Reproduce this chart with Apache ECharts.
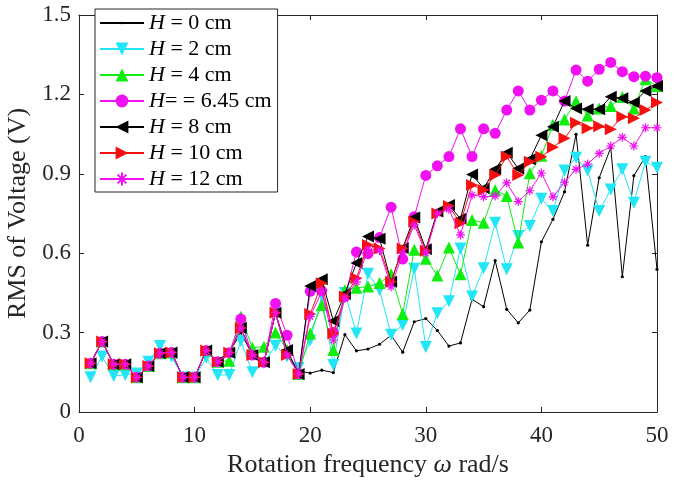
<!DOCTYPE html>
<html>
<head>
<meta charset="utf-8">
<script src="https://cdn.jsdelivr.net/npm/echarts@6/dist/echarts.min.js"></script>
<style>html,body{margin:0;padding:0;background:#fff;}#c{width:686px;height:481px;}</style>
</head>
<body>
<div id="c"></div>
<script>
var omega = [1,2,3,4,5,6,7,8,9,10,11,12,13,14,15,16,17,18,19,20,21,22,23,24,25,26,27,28,29,30,31,32,33,34,35,36,37,38,39,40,41,42,43,44,45,46,47,48,49,50];
var seriesNames = ['H = 0 cm','H = 2 cm','H = 4 cm','H= = 6.45 cm','H = 8 cm','H = 10 cm','H = 12 cm'];
var xTicks = [0,10,20,30,40,50];
var yTicks = [0,0.3,0.6,0.9,1.2,1.5];

var h0 = [0.184,0.266,0.18,0.18,0.131,0.174,0.222,0.225,0.131,0.131,0.232,0.19,0.224,0.30,0.215,0.188,0.375,0.215,0.155,
  0.147,0.158,0.149,0.292,0.231,0.238,0.256,0.29,0.226,0.341,0.353,
  0.308,0.249,0.261,0.426,0.398,0.572,0.388,0.337,0.385,0.643,
  0.728,0.832,1.049,0.63,0.885,0.999,0.511,0.893,0.965,0.539];
var h2 = [0.131,0.21,0.136,0.14,0.145,0.19,0.249,0.21,0.13,0.13,0.205,0.14,0.14,0.268,0.15,0.185,0.25,0.21,0.166,
  0.27,0.44,0.178,0.45,0.297,0.522,0.461,0.292,0.329,0.541,0.246,
  0.373,0.418,0.618,0.436,0.543,0.715,0.539,0.665,0.703,0.806,
  0.759,0.912,0.961,0.912,0.759,0.841,0.917,0.791,0.946,0.923];
var h4 = [0.184,0.266,0.18,0.18,0.131,0.174,0.222,0.225,0.131,0.131,0.232,0.19,0.194,0.36,0.243,0.247,0.30,0.234,0.144,
  0.297,0.404,0.234,0.46,0.469,0.474,0.487,0.52,0.37,0.613,0.579,
  0.516,0.622,0.52,0.725,0.715,0.839,0.816,0.64,0.902,0.968,
  1.085,1.105,1.174,1.12,1.147,1.156,1.19,1.147,1.257,1.232];
var h645 = [0.184,0.266,0.18,0.18,0.131,0.174,0.222,0.225,0.131,0.131,0.232,0.19,0.224,0.351,0.215,0.188,0.41,0.29,0.144,
  0.456,0.458,0.30,0.436,0.605,0.598,0.659,0.774,0.578,0.738,0.894,
  0.93,0.965,1.07,0.965,1.07,1.053,1.141,1.213,1.141,1.178,
  1.213,1.175,1.292,1.25,1.295,1.321,1.286,1.267,1.269,1.263];
var h8 = [0.184,0.266,0.18,0.18,0.131,0.174,0.222,0.225,0.131,0.131,0.232,0.19,0.224,0.317,0.215,0.188,0.375,0.234,0.144,
  0.476,0.502,0.344,0.446,0.563,0.663,0.655,0.492,0.62,0.735,0.615,
  0.758,0.782,0.73,0.897,0.845,0.917,0.98,0.92,0.955,1.046,
  1.078,1.175,1.147,1.144,1.144,1.191,1.185,1.169,1.213,1.232];
var h10 = [0.184,0.266,0.18,0.18,0.131,0.174,0.222,0.225,0.131,0.131,0.232,0.19,0.224,0.317,0.215,0.188,0.375,0.215,0.144,
  0.37,0.486,0.297,0.436,0.505,0.631,0.618,0.492,0.618,0.719,0.609,
  0.75,0.778,0.713,0.858,0.839,0.895,0.965,0.895,0.946,0.964,
  1.0,1.034,1.093,1.072,1.08,1.068,1.116,1.11,1.141,1.169];
var h12 = [0.184,0.266,0.18,0.18,0.131,0.174,0.222,0.225,0.131,0.131,0.232,0.19,0.224,0.317,0.215,0.188,0.375,0.215,0.144,
  0.36,0.455,0.272,0.43,0.492,0.615,0.61,0.473,0.6,0.707,0.6,
  0.75,0.766,0.669,0.82,0.813,0.816,0.866,0.795,0.836,0.903,
  0.813,0.868,0.917,0.937,0.977,1.005,1.038,1.005,1.074,1.074];

var allValues = [h0,h2,h4,h645,h8,h10,h12];
var colors = ['#000000','#22e6f6','#10ee10','#f010f0','#000000','#f51010','#f010f0'];
var starPath = 'path://M0,5L10,5M5,0L5,10M1.6,1.6L8.4,8.4M8.4,1.6L1.6,8.4';
var dotPath = 'path://M0,0M20,20M8,10a2,2 0 1,0 4,0a2,2 0 1,0 -4,0Z';
var symbols = [dotPath,'triangle','triangle','circle','triangle','triangle',starPath];
var rotates = [0,180,0,0,90,-90,0];
var sizes = [16,12,12,11,12,12,9];

function pairs(vals){ return omega.map(function(w,i){ return [w, vals[i]]; }); }

var series = allValues.map(function(vals, k){
  var isStar = k === 6;
  return {
    name: seriesNames[k],
    type: 'line',
    data: pairs(vals),
    xAxisIndex: 0, yAxisIndex: 0,
    symbol: symbols[k],
    symbolRotate: rotates[k],
    symbolSize: sizes[k],
    showAllSymbol: true,
    animation: false,
    lineStyle: {color: colors[k], width: 1},
    itemStyle: isStar ? {color: colors[k], borderColor: colors[k], borderWidth: 1.2} : {color: colors[k], borderWidth: 0},
    emphasis: {disabled: true},
    z: 2 + k
  };
});

var font = '"Liberation Serif", "Times New Roman", serif';
var chart = echarts.init(document.getElementById('c'), null, {renderer: 'canvas'});
chart.setOption({
  backgroundColor: '#ffffff',
  animation: false,
  grid: {left: 79, right: 29, top: 15, bottom: 69, containLabel: false, outerBoundsMode: 'none'},
  xAxis: [{
    type: 'value', min: xTicks[0], max: xTicks[xTicks.length-1], interval: 10,
    name: 'Rotation frequency {w|ω} rad/s', nameLocation: 'middle', nameGap: 40,
    nameTextStyle: {fontFamily: font, fontSize: 26, color: '#262626', rich: {w: {fontFamily: font, fontStyle: 'italic', fontSize: 26, color: '#262626'}}},
    axisLine: {show: true, lineStyle: {color: '#262626', width: 1}},
    axisTick: {show: true, inside: true, length: 5, lineStyle: {color: '#262626'}},
    axisLabel: {fontFamily: font, fontSize: 23, color: '#262626', margin: 12},
    splitLine: {show: false}
  }, {
    type: 'value', position: 'top', min: 0, max: 50, interval: 10,
    axisLine: {show: true, onZero: false, lineStyle: {color: '#262626', width: 1}},
    axisTick: {show: true, inside: true, length: 5, lineStyle: {color: '#262626'}},
    axisLabel: {show: false}, splitLine: {show: false}
  }],
  yAxis: [{
    type: 'value', min: yTicks[0], max: yTicks[yTicks.length-1], interval: 0.3,
    name: 'RMS of Voltage (V)', nameLocation: 'middle', nameGap: 36,
    nameTextStyle: {fontFamily: font, fontSize: 26, color: '#262626'},
    axisLine: {show: true, lineStyle: {color: '#262626', width: 1}},
    axisTick: {show: true, inside: true, length: 5, lineStyle: {color: '#262626'}},
    axisLabel: {fontFamily: font, fontSize: 23, color: '#262626', margin: 8,
      formatter: function(v){ return v === 0 ? '0' : v.toFixed(1); }},
    splitLine: {show: false}
  }, {
    type: 'value', position: 'right', min: 0, max: 1.5, interval: 0.3,
    axisLine: {show: true, onZero: false, lineStyle: {color: '#262626', width: 1}},
    axisTick: {show: true, inside: true, length: 5, lineStyle: {color: '#262626'}},
    axisLabel: {show: false}, splitLine: {show: false}
  }],
  legend: {
    orient: 'vertical', left: 95, top: 9,
    data: seriesNames,
    backgroundColor: '#ffffff',
    borderColor: '#262626', borderWidth: 1, borderRadius: 0,
    padding: [3, 6, 2, 4],
    itemWidth: 44, itemHeight: 16, itemGap: 4,
    textStyle: {fontFamily: font, fontSize: 22, color: '#000', lineHeight: 22,
      rich: {i: {fontFamily: font, fontStyle: 'italic', fontSize: 22, color: '#000', lineHeight: 22}}},
    formatter: function(name){ return '{i|H}' + name.substring(1); },
    selectedMode: false
  },
  series: series
});
</script>
</body>
</html>
